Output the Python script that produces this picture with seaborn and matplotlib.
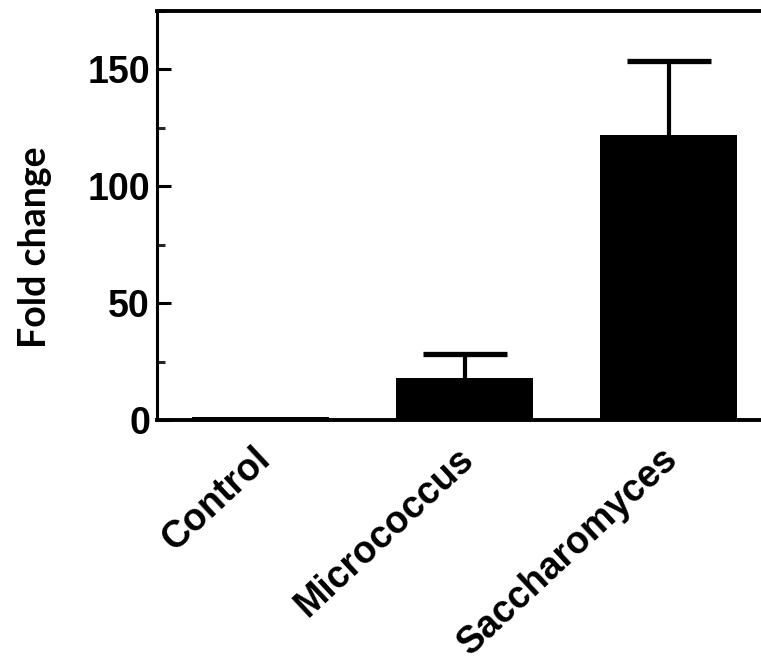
import matplotlib
matplotlib.use("Agg")
import matplotlib.pyplot as plt
import matplotlib.transforms as mtransforms
import seaborn as sns
import pandas as pd
from matplotlib.ticker import MultipleLocator

categories = ["Control", "Micrococcus", "Saccharomyces"]
fold_change = [1.2, 17.9, 122.0]
sem_upper = [0.0, 10.4, 31.8]
y_ticks = [0, 50, 100, 150]

df = pd.DataFrame({"group": categories, "fold": fold_change})

sns.set_theme(style="ticks")
plt.rcParams["font.family"] = ["Liberation Sans", "DejaVu Sans"]

fig = plt.figure(figsize=(7.61, 6.71), dpi=100)
ax = fig.add_axes([157 / 761, 1 - 420 / 671, 1 - 157 / 761, (420 - 11) / 671])

sns.barplot(data=df, x="group", y="fold", color="black", width=0.67,
            saturation=1, ax=ax, errorbar=None, linewidth=0)

idx = [i for i, s in enumerate(sem_upper) if s > 0]
_, caps, _ = ax.errorbar(idx, [fold_change[i] for i in idx],
                         yerr=[[0] * len(idx), [sem_upper[i] for i in idx]],
                         fmt="none", ecolor="black", elinewidth=3.0,
                         capsize=30, capthick=3.8, zorder=1)
# hide the lower caps (one-sided error bars)
caps[0].set_visible(False)

ax.set_xlim(-0.507, 2.453)
ax.set_ylim(0, 175)
ax.set_yticks(y_ticks)
ax.yaxis.set_minor_locator(MultipleLocator(25))

ax.spines["left"].set_linewidth(2.2)
ax.spines["bottom"].set_linewidth(2.8)
ax.spines["top"].set_linewidth(2.8)
for side in ["left", "bottom", "top"]:
    ax.spines[side].set_color("black")
ax.spines["right"].set_visible(False)

ax.tick_params(axis="y", which="major", direction="in", length=10, width=2.2,
               labelsize=27, pad=5, colors="black")
ax.tick_params(axis="y", which="minor", direction="in", length=6, width=2.2)
ax.tick_params(axis="x", which="both", length=0, pad=15)

for lbl in ax.get_yticklabels():
    lbl.set_fontweight("bold")

ax.set_xticks(range(len(categories)))
ax.set_xticklabels(categories, rotation=43, ha="right", va="top",
                   rotation_mode="anchor",
                   fontsize=27, fontweight="bold", color="black")
shift = mtransforms.ScaledTranslation(-8 / 100, 0, fig.dpi_scale_trans)
for lbl in ax.get_xticklabels():
    lbl.set_transform(lbl.get_transform() + shift)

ax.set_xlabel("")
ax.set_ylabel("Fold change", fontsize=27, fontweight="bold", color="black",
              family=["Lato", "DejaVu Sans"])
ax.yaxis.set_label_coords((52 - 157) / 604, (420 - 247) / 409)

fig.savefig("out.png", dpi=100, facecolor="white")
